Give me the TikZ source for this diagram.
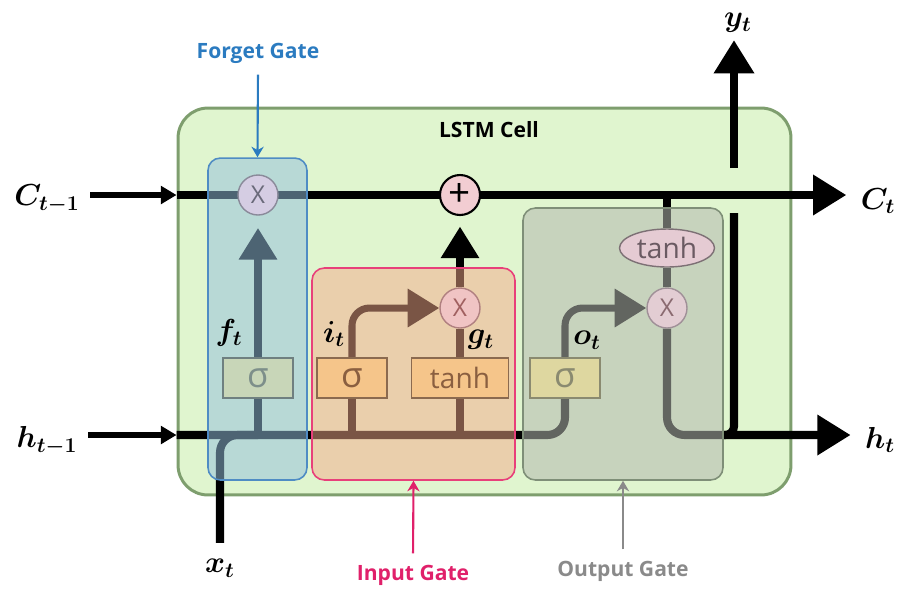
\documentclass[tikz,border=0pt]{standalone}
\usepackage{fontspec}
\setsansfont{Open Sans}
\usepackage{amsmath}
\usetikzlibrary{arrows.meta,positioning,backgrounds,shapes.geometric}
\pgfdeclarelayer{lines}
\pgfdeclarelayer{gates}
\pgfsetlayers{background,lines,gates,main}

\definecolor{cellfill}{HTML}{E0F5CF}
\definecolor{cellline}{HTML}{7E9E6E}
\definecolor{fgfill}{HTML}{94C0DD}
\definecolor{fgline}{HTML}{4F8CC4}
\definecolor{igfill}{HTML}{F4AA8A}
\definecolor{igline}{HTML}{E8407A}
\definecolor{ogfill}{HTML}{B4B8B0}
\definecolor{ogline}{HTML}{7F8F78}
\definecolor{fgtext}{HTML}{2B7BC0}
\definecolor{igtext}{HTML}{E0206A}
\definecolor{ogtext}{HTML}{8A8A8A}
% operations and activations
\definecolor{fxfill}{HTML}{D5CDE3}
\definecolor{fxline}{HTML}{8A8A9A}
\definecolor{fxtext}{HTML}{6A6A7A}
\definecolor{addfill}{HTML}{F2CDD2}
\definecolor{ixfill}{HTML}{F0C4C4}
\definecolor{ixline}{HTML}{B08080}
\definecolor{ixtext}{HTML}{A06060}
\definecolor{oxfill}{HTML}{E3CDD3}
\definecolor{oxline}{HTML}{A09098}
\definecolor{oxtext}{HTML}{8A6A70}
\definecolor{thfill}{HTML}{E5CBD3}
\definecolor{thline}{HTML}{7D7075}
\definecolor{thtext}{HTML}{6A5A62}
\definecolor{fsfill}{HTML}{C8D6B8}
\definecolor{fsline}{HTML}{6F8080}
\definecolor{fstext}{HTML}{7D8F8A}
\definecolor{isfill}{HTML}{F5C58A}
\definecolor{isline}{HTML}{8B6A4F}
\definecolor{istext}{HTML}{8A5F40}
\definecolor{osfill}{HTML}{DED7A0}
\definecolor{osline}{HTML}{8A8A70}

\begin{document}
\begin{tikzpicture}[x=0.02cm,y=-0.02cm,
  every node/.style={font=\sffamily},
  lbl/.style={font=\fontsize{18}{20}\selectfont,inner sep=1pt},
  glbl/.style={font=\sffamily\bfseries\fontsize{12}{14}\selectfont},
  cellbox/.style={draw=cellline,line width=1.7pt,fill=cellfill,rounded corners=17pt,inner sep=0pt},
  gatebox/.style={line width=0.9pt,rounded corners=7pt,inner sep=0pt,fill opacity=#1},
  actbox/.style={line width=0.8pt,minimum height=0.8cm,inner sep=0pt},
  sig/.style={actbox,minimum width=1.4cm,font=\sffamily\fontsize{20}{20}\selectfont},
  tnh/.style={actbox,minimum width=1.94cm,font=\sffamily\fontsize{16}{16}\selectfont},
  opnode/.style={circle,line width=0.8pt,minimum size=0.8cm,inner sep=0pt,font=\sffamily\fontsize{14}{14}\selectfont},
  wire/.style={line width=4pt},
  state/.style={line width=4.6pt},
  inarr/.style={line width=3.4pt,-{Triangle[length=9pt,width=10pt]}},
  tip/.style={-{Triangle[length=18pt,width=21pt]}},
  bigtip/.style={-{Triangle[length=19pt,width=22pt]}},
  garr/.style={line width=1.2pt,-{Stealth[length=6pt,width=7pt]}}]
\useasboundingbox (0,0) rectangle (912,600);

% cell
\begin{pgfonlayer}{background}
\node[cellbox,minimum width=12.26cm,minimum height=7.74cm] (cell) at (484.5,301.5) {};
\end{pgfonlayer}
\node[glbl] (lstm) at (489,130) {LSTM Cell};

% operations
\node[opnode,fill=fxfill,draw=fxline,text=fxtext] (fx) at (258,195) {X};
\node[opnode,fill=addfill,draw=black,line width=1.2pt,font=\sffamily\fontsize{22}{22}\selectfont] (add) at (460,195) {+};
\node[opnode,fill=ixfill,draw=ixline,text=ixtext] (ix) at (460,308) {X};
\node[opnode,fill=oxfill,draw=oxline,text=oxtext] (ox) at (667,308) {X};
\node[ellipse,line width=0.8pt,fill=thfill,draw=thline,text=thtext,minimum width=1.9cm,minimum height=0.76cm,inner sep=0pt,font=\sffamily\fontsize{16}{16}\selectfont] (otanh) at (667,248) {tanh};

\node[sig,fill=fsfill,draw=fsline,text=fstext] (fsig) at (258,378) {σ};
\node[sig,fill=isfill,draw=isline,text=istext] (isig) at (352,378) {σ};
\node[tnh,fill=isfill,draw=isline,text=istext] (itanh) at (460,378) {tanh};
\node[sig,fill=osfill,draw=osline,text=osline] (osig) at (565,378) {σ};

% labels
\node[lbl] (Cprev) at (47,199) {$\boldsymbol{C_{t-1}}$};
\node[lbl] (Cnext) at (878,201) {$\boldsymbol{C_t}$};
\node[lbl] (hprev) at (47,441) {$\boldsymbol{h_{t-1}}$};
\node[lbl] (hnext) at (880,440) {$\boldsymbol{h_t}$};
\node[lbl] (xin) at (220,568) {$\boldsymbol{x_t}$};
\node[lbl] (yout) at (738,23) {$\boldsymbol{y_t}$};
\node[lbl] (ft) at (229,333) {$\boldsymbol{f_t}$};
\node[lbl] (it) at (334,334) {$\boldsymbol{i_t}$};
\node[lbl] (gt) at (481,340) {$\boldsymbol{g_t}$};
\node[lbl] (ot) at (587,340) {$\boldsymbol{o_t}$};

\coordinate (hL) at (0,435);
\coordinate (yB) at (734,213);
\coordinate (yT) at (734,168);

% gates
\begin{pgfonlayer}{gates}
\node[gatebox=0.52,draw=fgline,fill=fgfill,minimum width=1.98cm,minimum height=6.44cm] (fbox) at (257.5,319) {};
\node[gatebox=0.5,draw=igline,fill=igfill,minimum width=4.06cm,minimum height=4.24cm] (ibox) at (413.5,374) {};
\node[gatebox=0.55,draw=ogline,fill=ogfill,minimum width=4cm,minimum height=5.44cm] (obox) at (623,344) {};
\end{pgfonlayer}

\node[glbl,text=fgtext] (fgl) at (258,53) {Forget Gate};
\node[glbl,text=igtext] (igl) at (413,575) {Input Gate};
\node[glbl,text=ogtext] (ogl) at (623,571) {Output Gate};
\draw[garr,fgtext,shorten <=3pt] (fgl.south) -- (fbox.north);
\draw[garr,igtext,shorten <=3pt] (igl.north) -- (ibox.south);
\draw[garr,ogtext,shorten <=3pt] (ogl.north) -- (obox.south);

% connectors
\begin{pgfonlayer}{lines}
\draw[inarr] ([xshift=5pt]Cprev.east |- fx) -- (cell.west |- fx);
\draw[state,bigtip] (cell.west |- fx) -- ([xshift=-7pt]Cnext.west |- fx);
\draw[inarr] ([xshift=5pt]hprev.east |- hL) -- (cell.west |- hL);
\draw[state,rounded corners=10pt] (cell.west |- hL) -| (osig.south);
\draw[state,rounded corners=10pt] ([yshift=8pt]xin.north) |- (fsig.south |- hL);
\foreach \g in {fsig,isig,itanh} \draw[wire] (\g.south) -- (\g.south |- hL);
\draw[wire,tip,shorten >=7pt] (fsig.north) -- (fx.south);
\draw[wire,tip,rounded corners=10pt] (isig.north) |- (ix.west);
\draw[wire] (itanh.north) -- (ix.south);
\draw[wire,tip,shorten >=6pt] (ix.north) -- (add.south);
\draw[wire,tip,rounded corners=10pt] (osig.north) |- (ox.west);
\draw[wire] (ox.north) -- (otanh.south);
\draw[wire] (otanh.north) -- (otanh.north |- fx);
\draw[state,bigtip,rounded corners=10pt] (ox.south) |- ([xshift=-7pt]hnext.west |- hL);
\draw[state,rounded corners=5pt] (obox.east |- hL) -| (yB);
\draw[state,bigtip] (yT) -- ([yshift=-3pt]yT |- yout.south);
\end{pgfonlayer}
\end{tikzpicture}
\end{document}
